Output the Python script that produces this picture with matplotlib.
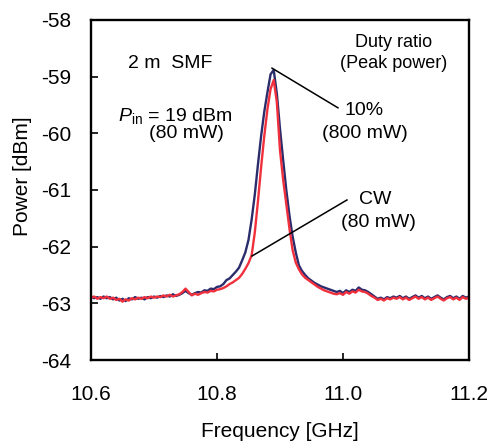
import numpy as np
import matplotlib
matplotlib.use("Agg")
import matplotlib.pyplot as plt

plt.rcParams['font.family'] = ['Liberation Sans', 'DejaVu Sans']
plt.rcParams['mathtext.fontset'] = 'custom'
plt.rcParams['mathtext.rm'] = 'Liberation Sans'
plt.rcParams['mathtext.it'] = 'Liberation Sans:italic'
plt.rcParams['axes.unicode_minus'] = False

# frequency grid of the spectrum analyser trace [GHz]
freq_ghz = [
    10.600, 10.605, 10.610, 10.615, 10.620, 10.625, 10.630, 10.635, 10.640, 10.645,
    10.650, 10.655, 10.660, 10.665, 10.670, 10.675, 10.680, 10.685, 10.690, 10.695,
    10.700, 10.705, 10.710, 10.715, 10.720, 10.725, 10.730, 10.735, 10.740, 10.745,
    10.750, 10.755, 10.760, 10.765, 10.770, 10.775, 10.780, 10.785, 10.790, 10.795,
    10.800, 10.805, 10.810, 10.815, 10.820, 10.825, 10.830, 10.835, 10.840, 10.845,
    10.850, 10.855, 10.860, 10.865, 10.870, 10.875, 10.880, 10.885, 10.890, 10.895,
    10.900, 10.905, 10.910, 10.915, 10.920, 10.925, 10.930, 10.935, 10.940, 10.945,
    10.950, 10.955, 10.960, 10.965, 10.970, 10.975, 10.980, 10.985, 10.990, 10.995,
    11.000, 11.005, 11.010, 11.015, 11.020, 11.025, 11.030, 11.035, 11.040, 11.045,
    11.050, 11.055, 11.060, 11.065, 11.070, 11.075, 11.080, 11.085, 11.090, 11.095,
    11.100, 11.105, 11.110, 11.115, 11.120, 11.125, 11.130, 11.135, 11.140, 11.145,
    11.150, 11.155, 11.160, 11.165, 11.170, 11.175, 11.180, 11.185, 11.190, 11.195,
    11.200,
]

# duty ratio 10 % (peak power 800 mW) [dBm]
power_duty10 = [
    -62.88, -62.91, -62.89, -62.92, -62.88, -62.91, -62.89, -62.93, -62.90, -62.95,
    -62.92, -62.96, -62.91, -62.93, -62.89, -62.92, -62.90, -62.93, -62.89, -62.91,
    -62.88, -62.90, -62.87, -62.89, -62.86, -62.88, -62.84, -62.87, -62.85, -62.82,
    -62.78, -62.82, -62.85, -62.82, -62.80, -62.81, -62.77, -62.78, -62.74, -62.75,
    -62.71, -62.70, -62.66, -62.59, -62.56, -62.50, -62.44, -62.37, -62.24, -62.10,
    -61.88, -61.52, -61.08, -60.55, -60.05, -59.62, -59.28, -58.96, -58.88, -59.30,
    -59.92, -60.47, -61.00, -61.45, -61.82, -62.10, -62.33, -62.43, -62.50, -62.56,
    -62.60, -62.64, -62.67, -62.70, -62.72, -62.74, -62.76, -62.78, -62.80, -62.78,
    -62.82, -62.77, -62.80, -62.76, -62.78, -62.72, -62.76, -62.77, -62.80, -62.84,
    -62.88, -62.92, -62.90, -62.93, -62.89, -62.91, -62.88, -62.90, -62.87, -62.91,
    -62.88, -62.92, -62.89, -62.86, -62.90, -62.87, -62.91, -62.88, -62.92, -62.89,
    -62.86, -62.90, -62.93, -62.89, -62.87, -62.91, -62.88, -62.92, -62.87, -62.90,
    -62.88,
]

# CW (80 mW) [dBm]
power_cw = [
    -62.90, -62.88, -62.92, -62.89, -62.91, -62.88, -62.92, -62.90, -62.94, -62.92,
    -62.97, -62.93, -62.95, -62.91, -62.93, -62.90, -62.92, -62.89, -62.91, -62.88,
    -62.90, -62.88, -62.89, -62.86, -62.88, -62.85, -62.88, -62.86, -62.84, -62.80,
    -62.74, -62.80, -62.86, -62.83, -62.85, -62.82, -62.80, -62.81, -62.78, -62.79,
    -62.76, -62.75, -62.73, -62.70, -62.66, -62.63, -62.59, -62.55, -62.48, -62.39,
    -62.29, -62.15, -61.75, -61.20, -60.60, -60.05, -59.58, -59.22, -59.06, -59.45,
    -60.30, -60.82, -61.25, -61.68, -62.06, -62.28, -62.40, -62.49, -62.55, -62.59,
    -62.63, -62.67, -62.71, -62.74, -62.77, -62.79, -62.81, -62.83, -62.84, -62.82,
    -62.85, -62.80, -62.83, -62.79, -62.81, -62.76, -62.79, -62.80, -62.83, -62.87,
    -62.90, -62.94, -62.92, -62.95, -62.91, -62.93, -62.90, -62.92, -62.89, -62.93,
    -62.90, -62.94, -62.91, -62.88, -62.92, -62.89, -62.93, -62.90, -62.94, -62.91,
    -62.88, -62.92, -62.95, -62.91, -62.89, -62.93, -62.90, -62.94, -62.89, -62.92,
    -62.90,
]

x_ticks = [10.6, 10.8, 11.0, 11.2]
x_tick_labels = ['10.6', '10.8', '11.0', '11.2']
y_ticks = [-64, -63, -62, -61, -60, -59, -58]

fig = plt.figure(figsize=(4.89, 4.42), dpi=100)
ax = fig.add_axes([0.1861, 0.1855, 0.7730, 0.7693])

ax.plot(freq_ghz, power_duty10, color='#2b2c6c', lw=1.7)
ax.plot(freq_ghz, power_cw, color='#f0303c', lw=1.7)

# leader lines to the labels
ax.plot([10.8873, 10.992], [-58.85, -59.55], color='black', lw=1.1)
ax.plot([10.8556, 11.0063], [-62.165, -61.176], color='black', lw=1.1)

fs = 14
ax.text(10.7254, -58.76, '2 m  SMF', fontsize=fs, ha='center', va='center')
ax.text(10.6429, -59.70, r'$P_{\rm in}$ = 19 dBm', fontsize=fs, ha='left', va='center')
ax.text(10.7516, -60.00, '(80 mW)', fontsize=fs, ha='center', va='center')
ax.text(11.081, -58.40, 'Duty ratio', fontsize=13, ha='center', va='center')
ax.text(11.081, -58.76, '(Peak power)', fontsize=13, ha='center', va='center')
ax.text(11.0333, -59.59, '10%', fontsize=fs, ha='center', va='center')
ax.text(11.0349, -60.00, '(800 mW)', fontsize=fs, ha='center', va='center')
ax.text(11.0508, -61.16, 'CW', fontsize=fs, ha='center', va='center')
ax.text(11.0556, -61.57, '(80 mW)', fontsize=fs, ha='center', va='center')

ax.set_xlim(10.6, 11.2)
ax.set_ylim(-64, -58)
ax.set_xticks(x_ticks)
ax.set_xticklabels(x_tick_labels)
ax.set_yticks(y_ticks)
ax.tick_params(direction='in', length=5, width=1.2, labelsize=15)
ax.tick_params(axis='x', pad=18)
ax.tick_params(axis='y', pad=14)
for s in ax.spines.values():
    s.set_linewidth(1.7)

ax.set_xlabel('Frequency [GHz]', fontsize=15, labelpad=13)
ax.set_ylabel('Power [dBm]', fontsize=15)
ax.yaxis.set_label_coords(-0.155, 0.54)

fig.savefig('out.png', dpi=100)
